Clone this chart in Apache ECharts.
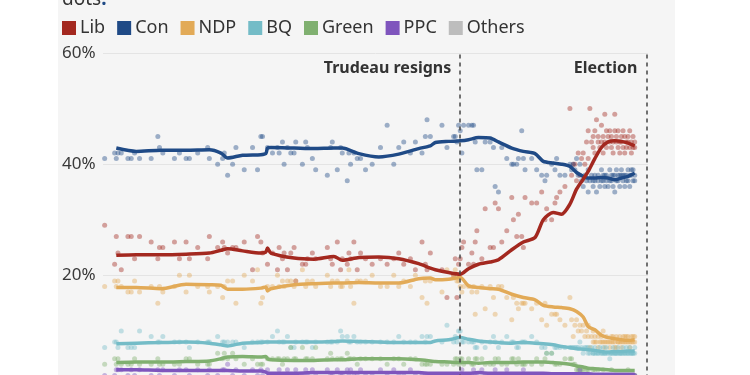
<!DOCTYPE html>
<html><head><meta charset="utf-8">
<script src="https://cdn.jsdelivr.net/npm/echarts@6/dist/echarts.min.js"></script>
<style>
html,body{margin:0;padding:0;overflow:hidden;background:#fff;width:750px;height:375px}
#c{width:750px;height:420px;background:linear-gradient(to right,#fff 0,#fff 58px,#f5f5f5 58px,#f5f5f5 675px,#fff 675px)}
</style>
</head><body><div id="c"></div>
<script>
// ---------- DATA ----------
const parties = ['Lib','Con','NDP','BQ','Green','PPC','Others'];
const partyColors = ['#a3281f','#1f4a86','#e2aa57','#74bcc7','#80b070','#7f55bd','#bdbdbd'];
const yTicks = [0, 20, 40, 60];
const eventDates = ['2025-01-06', '2025-04-28'];
const eventLabels = ['Trudeau resigns', 'Election'];
const xRange = ['2024-06-05', '2025-04-29'];

// smoothed polling averages
const trendDates = ['2024-06-13','2024-06-25','2024-07-10','2024-07-25','2024-08-08','2024-08-15','2024-08-19','2024-08-28','2024-09-08','2024-09-11',
 '2024-09-12','2024-09-14','2024-09-28','2024-10-10','2024-10-22','2024-10-27','2024-11-06','2024-11-18','2024-11-30','2024-12-12',
 '2024-12-19','2024-12-22','2024-12-30','2025-01-06','2025-01-11','2025-01-17','2025-01-24','2025-01-29','2025-02-06','2025-02-13',
 '2025-02-20','2025-02-25','2025-03-03','2025-03-08','2025-03-13','2025-03-17','2025-03-21','2025-03-24','2025-03-28','2025-04-01',
 '2025-04-05','2025-04-09','2025-04-13','2025-04-17','2025-04-21'];
const trendLib = [23.6,23.7,23.7,23.8,24.0,24.5,24.8,24.4,24.0,24.2, 24.9,24.0,23.1,22.9,23.4,22.7,23.2,23.3,23.0,22.1,
 21.3,21.0,20.5,20.2,21.2,22.0,22.4,22.8,24.6,26.0, 26.8,30.0,31.3,31.0,32.8,35.5,37.3,38.7,41.0,43.0, 44.0,44.2,44.1,43.8,43.3];
const trendCon = [42.9,42.3,42.5,42.5,42.6,42.0,41.1,41.6,41.7,41.9, 42.9,43.0,42.9,42.8,42.9,42.9,41.9,41.3,41.8,42.8,
 43.3,43.9,44.1,44.2,44.4,44.8,44.7,44.0,42.9,42.3, 41.9,40.5,40.2,40.0,39.6,38.5,37.8,37.5,37.5,37.6, 37.5,37.2,37.5,37.8,38.4];
const trendNDP = [17.8,17.8,17.6,18.4,18.3,18.2,17.5,17.5,17.7,17.9, 17.2,17.6,18.3,18.5,18.6,18.6,18.7,18.6,18.6,19.4,
 19.5,19.2,19.3,19.6,18.1,17.8,17.6,17.5,16.6,16.0, 15.6,14.6,14.3,14.2,14.0,13.5,12.5,10.8,10.2,9.2, 8.8,8.6,8.4,8.3,8.4];
const trendBQ = [7.7,7.8,7.9,8.0,7.8,7.5,7.3,7.8,7.9,8.0, 8.0,8.0,8.0,8.0,8.1,8.2,8.1,8.0,7.9,7.9,
 7.9,8.2,8.4,8.8,8.5,8.2,8.0,7.9,7.8,7.9, 7.8,7.7,7.5,7.2,7.0,6.8,6.7,6.6,6.5,6.3, 6.2,6.3,6.3,6.4,6.4];
const trendGreen = [4.3,4.4,4.4,4.5,4.6,5.0,5.3,5.4,5.3,5.4, 5.0,4.8,4.7,4.7,4.8,4.8,5.0,5.0,5.0,4.8,
 4.6,4.5,4.4,4.3,4.3,4.2,4.3,4.3,4.3,4.4, 4.4,4.4,4.3,4.2,4.0,3.7,3.5,3.3,3.2,3.1, 3.0,2.9,2.9,2.9,2.9];
const trendPPC = [3.0,3.0,2.9,2.9,2.9,2.9,2.9,2.8,2.8,2.6, 2.4,2.4,2.4,2.5,2.5,2.5,2.5,2.5,2.5,2.5,
 2.4,2.4,2.4,2.4,2.4,2.5,2.4,2.4,2.4,2.4, 2.4,2.4,2.3,2.3,2.3,2.3,2.3,2.3,2.2,2.2, 2.2,2.2,2.2,2.2,2.2];
const trendOthers = [1.4,1.4,1.5,1.4,1.4,1.5,1.5,1.4,1.4,1.5, 1.5,1.5,1.4,1.4,1.5,1.5,1.5,1.4,1.4,1.4,
 1.4,1.5,1.5,1.4,1.4,1.4,1.4,1.5,1.5,1.4, 1.4,1.4,1.3,1.3,1.3,1.3,1.2,1.2,1.2,1.2, 1.2,1.2,1.2,1.2,1.2];

// individual polls
const pollDates = [
 '2024-06-06','2024-06-12','2024-06-13','2024-06-14','2024-06-16','2024-06-20','2024-06-22','2024-06-24','2024-06-27','2024-07-04',
 '2024-07-08','2024-07-09','2024-07-11','2024-07-18','2024-07-21','2024-07-25','2024-07-27','2024-08-01','2024-08-07','2024-08-08',
 '2024-08-13','2024-08-16','2024-08-17','2024-08-19','2024-08-22','2024-08-24','2024-08-29','2024-09-03','2024-09-06','2024-09-08',
 '2024-09-09','2024-09-12','2024-09-15','2024-09-18','2024-09-19','2024-09-21','2024-09-22','2024-09-24','2024-09-26','2024-09-28',
 '2024-09-29','2024-10-03','2024-10-05','2024-10-06','2024-10-09','2024-10-11','2024-10-18','2024-10-20','2024-10-21','2024-10-24',
 '2024-10-26','2024-10-27','2024-10-30','2024-10-31','2024-11-01','2024-11-03','2024-11-05','2024-11-07','2024-11-10','2024-11-14',
 '2024-11-19','2024-11-23','2024-11-27','2024-11-30','2024-12-03','2024-12-07','2024-12-10','2024-12-14','2024-12-16','2024-12-17',
 '2024-12-19','2024-12-26','2024-12-29','2025-01-02','2025-01-03','2025-01-04','2025-01-05','2025-01-06','2025-01-07','2025-01-08',
 '2025-01-11','2025-01-13','2025-01-14','2025-01-15','2025-01-16','2025-01-19','2025-01-21','2025-01-24','2025-01-26','2025-01-27',
 '2025-01-29','2025-01-31','2025-02-03','2025-02-06','2025-02-07','2025-02-09','2025-02-10','2025-02-12','2025-02-13','2025-02-14',
 '2025-02-18','2025-02-21','2025-02-24','2025-02-26','2025-02-27','2025-03-02','2025-03-04','2025-03-05','2025-03-07','2025-03-10',
 '2025-03-13','2025-03-14','2025-03-15','2025-03-16','2025-03-17','2025-03-18','2025-03-19','2025-03-20','2025-03-21','2025-03-22',
 '2025-03-23','2025-03-24','2025-03-24','2025-03-25','2025-03-26','2025-03-27','2025-03-27','2025-03-28','2025-03-28','2025-03-29',
 '2025-03-30','2025-03-30','2025-03-31','2025-04-01','2025-04-01','2025-04-02','2025-04-02','2025-04-03','2025-04-03','2025-04-04',
 '2025-04-04','2025-04-05','2025-04-06','2025-04-06','2025-04-07','2025-04-07','2025-04-08','2025-04-08','2025-04-09','2025-04-09',
 '2025-04-10','2025-04-10','2025-04-11','2025-04-11','2025-04-12','2025-04-12','2025-04-13','2025-04-13','2025-04-14','2025-04-14',
 '2025-04-15','2025-04-15','2025-04-16','2025-04-16','2025-04-17','2025-04-17','2025-04-18','2025-04-18','2025-04-19','2025-04-19',
 '2025-04-20','2025-04-20','2025-04-21','2025-04-21'];
const pollLib = [
 29,22,27,24,21,27,27,23,27,26, 23,25,25,26,23,26,23,25,23,27, 25,26,25,24,25,25,26,21,27,26,
 24,22,24,21,25,23,24,21,24,25, 19,22,22,23,24,23,25,23,22,26, 21,23,22,24,23,26,21,24,23,22,
 23,22,23,24,22,23,21,26,22,21, 24,21,16,20,23,16,22,23,25,26, 22,24,22,26,28,23,32,25,25,33,
 32,26,28,34,30,27,31,27,25,34, 33,33,35,30,32,30,33,34,35,36, 50,38,40,40,37,42,38,41,42,40,
 44,46,41,50,44,45,43,46,42,48, 44,45,43,47,44,45,42,49,44,46, 43,45,44,46,43,45,44,42,46,49,
 44,45,43,46,44,42,45,44,43,46, 45,42,44,43,45,44,43,46,44,42, 45,43,44,43];
const pollCon = [
 41,42,41,42,42,41,41,42,41,41, 45,43,42,41,42,41,41,42,43,41, 40,41,42,38,40,43,39,43,39,45,
 45,43,42,43,42,44,40,43,42,42, 44,40,44,43,41,39,38,43,44,39, 43,42,37,42,40,42,41,41,39,40,
 43,47,40,43,44,42,44,42,45,48, 45,47,43,45,45,44,47,46,42,47, 47,47,47,44,39,39,44,44,43,36,
 35,43,41,40,40,40,41,46,41,39, 41,39,38,37,38,40,39,41,38,38, 40,39,40,39,41,38,40,37,36,38,
 37,35,39,37,38,37,36,37,38,35, 37,38,36,37,39,38,37,36,38,37, 38,36,39,37,38,37,36,38,38,35,
 37,39,38,37,36,38,38,39,37,38, 36,38,38,37,39,37,38,36,39,38, 37,39,38,37];
const pollNDP = [
 18,19,18,19,18,17,17,19,17,18, 15,18,17,18,20,17,20,18,18,17, 18,16,18,19,19,15,20,19,21,15,
 16,18,18,20,18,19,18,19,19,18, 19,21,18,19,19,18,20,18,19,19, 18,18,19,21,18,15,19,19,19,20,
 18,18,20,18,19,18,20,16,19,15, 19,17,21,20,21,19,19,18,17,18, 18,17,18,13,17,18,14,18,16,13,
 18,18,16,12,16,15,14,15,15,15, 14,15,12,15,11,13,13,13,12,11, 16,12,9,11,12,10,11,10,11,9,
 10,9,11,7,9,8,10,8,9,8, 9,7,8,8,9,8,10,7,8,8, 9,8,8,7,9,8,9,8,8,7,
 9,7,8,8,9,8,8,7,9,8, 8,9,8,9,8,9,8,7,8,9, 8,9,8,9];
const pollBQ = [
 7,8,8,7,10,7,7,7,10,9, 8,8,9,8,8,8,7,8,8,8, 9,8,8,8,8,8,7,8,8,8,
 8,8,9,10,8,8,8,9,7,7, 8,8,8,8,7,8,8,8,8,8, 10,9,9,8,8,9,8,8,8,8,
 8,8,8,9,8,8,8,9,8,9, 9,8,11,8,9,8,10,10,8,8, 8,8,8,7,7,8,7,8,9,8,
 7,8,9,8,8,7,7,8,8,8, 9,8,7,7,6,6,7,7,7,7, 7,7,7,7,7,7,8,7,6,7,
 7,6,7,6,7,6,6,6,7,6, 6,6,7,6,6,7,6,6,6,6, 7,6,6,5,6,6,7,6,6,6,
 6,6,7,6,6,6,6,6,7,6, 6,6,6,7,6,6,7,6,6,6, 6,6,6,7];
const pollGreen = [
 4,5,4,5,4,4,4,5,4,4, 5,4,4,4,4,5,5,4,4,4, 6,5,6,5,6,5,4,5,4,4,
 4,5,5,5,5,4,5,5,7,5, 5,7,5,5,5,7,5,6,5,5, 5,5,6,5,5,5,4,5,5,5,
 5,4,5,5,4,5,5,4,4,4, 4,4,4,4,5,5,4,5,5,4, 5,4,4,5,5,5,4,4,4,5,
 5,4,4,5,5,4,5,4,4,4, 4,5,4,5,6,6,4,4,4,5, 5,5,4,4,3,3,3,3,3,2,
 3,3,2,2,2,2,3,2,3,2, 3,2,2,2,2,2,3,2,2,2, 2,2,2,2,3,2,2,2,2,2,
 2,2,2,2,2,2,2,2,2,2, 2,2,2,2,2,3,2,2,2,2, 2,2,2,2];
const pollPPC = [
 2,2,3,3,3,2,3,2,3,2, 3,2,3,2,3,3,2,3,2,3, 2,3,3,4,2,3,2,3,2,3,
 2,3,2,2,3,2,2,3,2,2, 3,2,3,2,3,2,3,2,2,3, 2,2,3,2,3,2,2,3,2,2,
 3,2,3,2,2,3,2,2,2,2, 2,2,2,2,2,2,2,2,3,2, 2,2,3,2,2,3,2,2,2,3,
 2,2,3,2,2,2,2,2,3,2, 2,2,2,2,2,2,2,2,2,2, 2,2,2,2,2,2,3,2,2,2,
 2,2,2,2,2,2,2,1,2,2, 2,2,2,2,2,2,2,1,2,2, 2,2,2,2,2,2,2,2,2,1,
 2,2,2,2,2,2,2,2,2,2, 2,2,2,2,2,2,2,2,2,2, 2,2,2,2];

// ---------- CHART ----------
const trends = [trendLib, trendCon, trendNDP, trendBQ, trendGreen, trendPPC, trendOthers];
const polls = [pollLib, pollCon, pollNDP, pollBQ, pollGreen, pollPPC, null];
const FONT = '"Noto Sans", "DejaVu Sans", sans-serif';

const series = [];
// dots first (lower z)
parties.forEach((p, i) => {
  if (!polls[i]) return;
  series.push({
    name: p + ' polls', type: 'scatter', symbolSize: 5, z: 2, silent: true,
    itemStyle: { color: partyColors[i], opacity: 0.42 },
    data: pollDates.map((d, k) => [d, polls[i][k]])
  });
});
// lines on top, Lib last so it sits above Con
const lineOrder = [6, 5, 4, 3, 2, 1, 0];
lineOrder.forEach(i => {
  series.push({
    name: parties[i], type: 'line', z: 4, showSymbol: false, smooth: 0.25,
    lineStyle: { color: partyColors[i], width: 3.5 },
    itemStyle: { color: partyColors[i] },
    data: trendDates.map((d, k) => [d, trends[i][k]])
  });
});
// event dashed lines
series.push({
  name: 'events', type: 'line', data: [], z: 5,
  markLine: {
    silent: true, symbol: 'none', label: { show: false },
    lineStyle: { color: '#444', width: 1.5, type: [4, 4] },
    data: eventDates.map(d => ({ xAxis: echarts.time.parse(d).getTime() }))
  }
});

const chart = echarts.init(document.getElementById('c'), null, { renderer: 'canvas' });
const option = {
  animation: false,
  backgroundColor: 'transparent',
  textStyle: { fontFamily: FONT },
  grid: { left: 103, right: 102, top: 53, bottom: 33.5, containLabel: false },
  legend: {
    left: 57, top: 14, icon: 'rect', itemWidth: 14, itemHeight: 14, itemGap: 12,
    data: parties, selectedMode: false,
    textStyle: { fontSize: 18, color: '#333', fontFamily: FONT, padding: [0, 0, 0, -1] }
  },
  xAxis: {
    type: 'time',
    min: echarts.time.parse(xRange[0]).getTime(),
    max: echarts.time.parse(xRange[1]).getTime(),
    axisLine: { show: false }, axisTick: { show: false }, axisLabel: { show: false },
    splitLine: { show: false }
  },
  yAxis: {
    type: 'value', min: yTicks[0], max: yTicks[yTicks.length - 1], interval: yTicks[1] - yTicks[0],
    axisLine: { show: false }, axisTick: { show: false },
    axisLabel: { align: 'left', margin: 41, fontSize: 17, color: '#3a3a3a', fontFamily: FONT,
      formatter: v => v + '%' },
    splitLine: { lineStyle: { color: '#e4e4e4', width: 1 } }
  },
  graphic: [{
    type: 'text', left: 62, top: -10,
    style: {
      text: '{a|dots}{b|.}',
      rich: { a: { fontSize: 19, fill: '#333', fontFamily: FONT }, b: { fontSize: 19, fill: '#1f4a86', fontFamily: FONT, fontWeight: 'bold' } }
    }
  }],
  series
};
chart.setOption(option);

const yTop = chart.convertToPixel({ yAxisIndex: 0 }, yTicks[yTicks.length - 1]);
const labels = eventDates.map((d, i) => {
  const x = chart.convertToPixel({ xAxisIndex: 0 }, echarts.time.parse(d).getTime());
  return {
    type: 'text', id: 'ev' + i, x: x - 9, y: yTop + 15,
    style: { text: eventLabels[i], align: 'right', verticalAlign: 'middle',
      font: 'bold 16px ' + FONT, fill: '#333' }
  };
});
chart.setOption({ graphic: option.graphic.concat(labels) });
</script>
</body></html>
